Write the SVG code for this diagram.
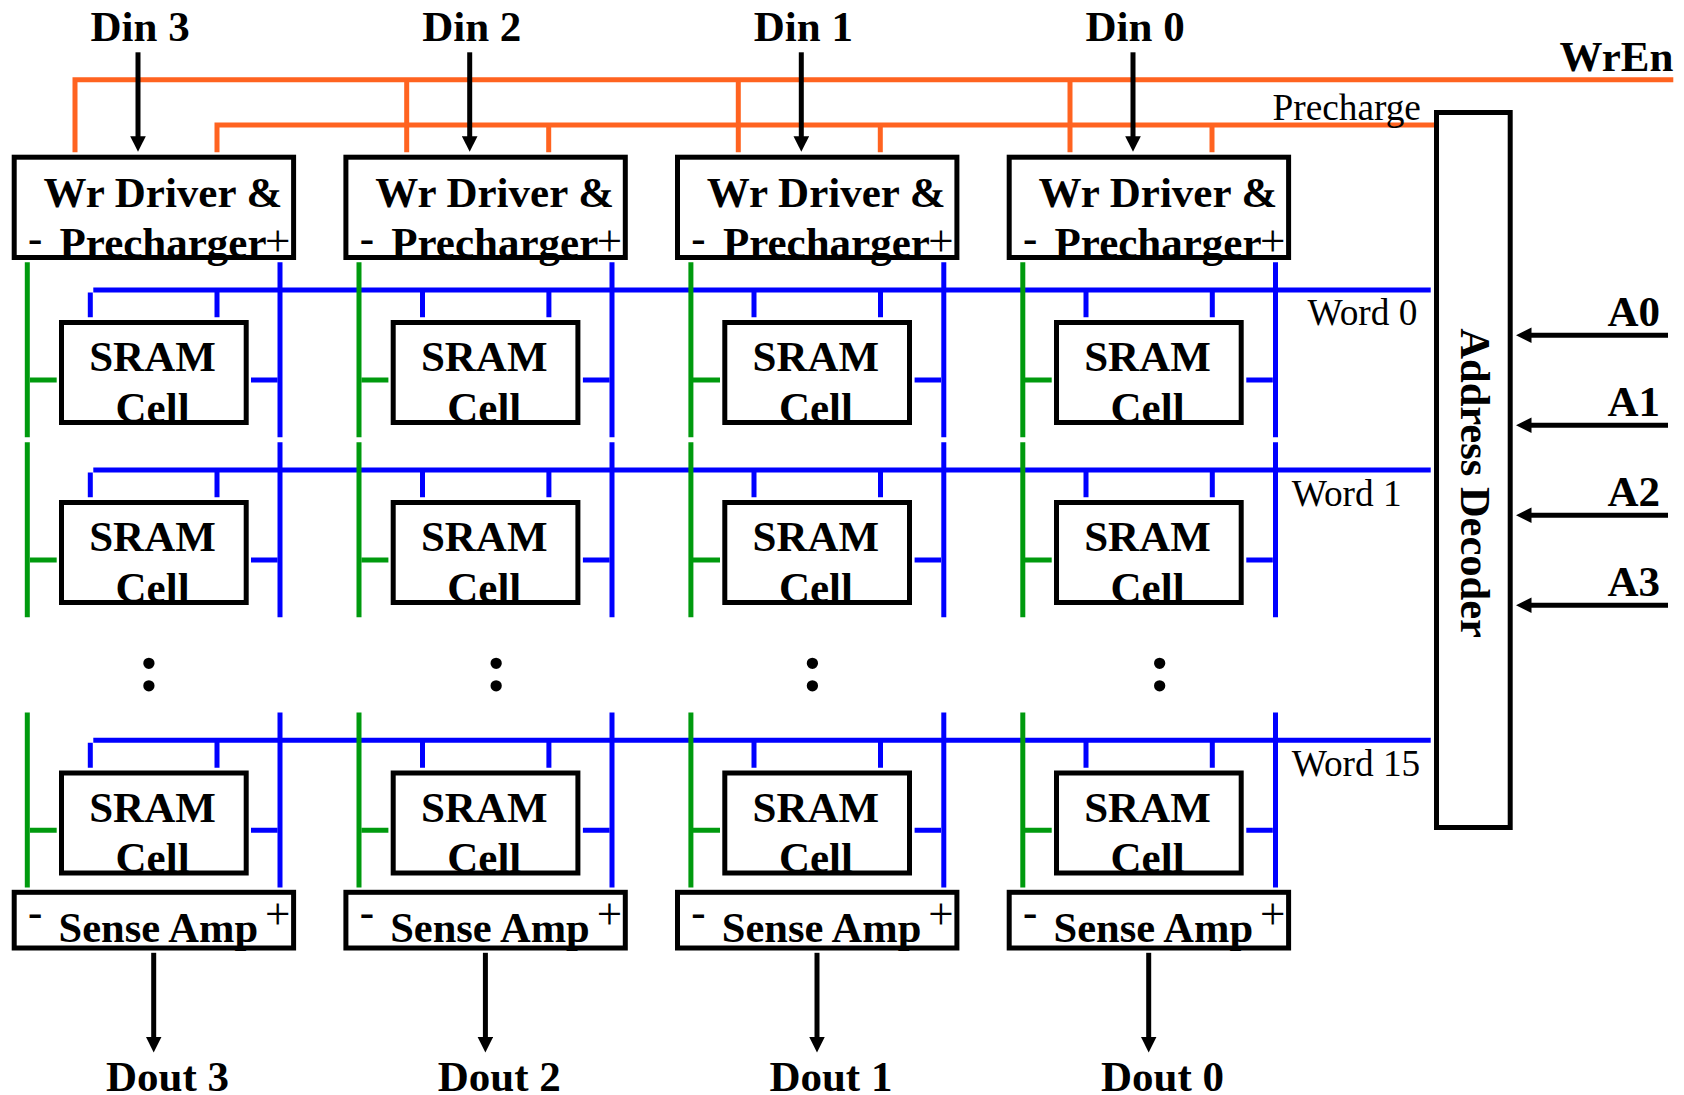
<svg xmlns="http://www.w3.org/2000/svg" width="1684" height="1095" viewBox="0 0 1684 1095">
<style>
.box{fill:none;stroke:#000;stroke-width:5}
.o{fill:none;stroke:#ff6320;stroke-width:5}
.g{fill:none;stroke:#009a0e;stroke-width:5}
.b{fill:none;stroke:#0000ff;stroke-width:5}
.a{fill:none;stroke:#000;stroke-width:5;marker-end:url(#ah)}
text{font-family:"Liberation Serif","Times New Roman",serif;fill:#000}
.t{font-size:43px;font-weight:bold}
.s{font-size:42.5px;font-weight:bold}
.r{font-size:37.3px}
.p{font-size:45px}
.d{font-size:70px;font-weight:bold}
</style>
<defs>
<marker id="ah" markerUnits="userSpaceOnUse" markerWidth="16" markerHeight="16" refX="5.5" refY="8" orient="auto"><path d="M0 0.2L15.5 8L0 15.8Z" fill="#000"/></marker>
</defs>
<rect width="1684" height="1095" fill="#fff"/>
<g id="connectors">
<path class="o" d="M1673.3 79.7H72.5M75 79.7V152.3M406.7 79.7V152.3M738.3 79.7V152.3M1070 79.7V152.3"/>
<path class="o" d="M1436 125H214.5M217 125V152.3M548.7 125V152.3M880.3 125V152.3M1212 125V152.3"/>
<path class="a" d="M138 52.3V141.7"/><path class="a" d="M469.7 52.3V141.7"/><path class="a" d="M801.3 52.3V141.7"/><path class="a" d="M1133 52.3V141.7"/>
<path class="b" d="M93.3 289.9H1430.7M90.3 292.5V317.3M217 292.5V317.3M422.5 292.5V317.3M548.9 292.5V317.3M754 292.5V317.3M880.5 292.5V317.3M1086 292.5V317.3M1212.3 292.5V317.3"/>
<path class="b" d="M93.3 470H1430.7M90.3 472.5V497.3M217 472.5V497.3M422.5 472.5V497.3M548.9 472.5V497.3M754 472.5V497.3M880.5 472.5V497.3M1086 472.5V497.3M1212.3 472.5V497.3"/>
<path class="b" d="M93.3 740.2H1430.7M90.3 742.8V767.8M217 742.8V767.8M422.5 742.8V767.8M548.9 742.8V767.8M754 742.8V767.8M880.5 742.8V767.8M1086 742.8V767.8M1212.3 742.8V767.8"/>
<path class="g" d="M27.3 262.3V437.3M30 380H56.7M359 262.3V437.3M361.7 380H388.4M690.9 262.3V437.3M693.4 380H720M1022.8 262.3V437.3M1025 380H1051.7"/>
<path class="g" d="M27.3 442.3V617.3M30 560H56.7M359 442.3V617.3M361.7 560H388.4M690.9 442.3V617.3M693.4 560H720M1022.8 442.3V617.3M1025 560H1051.7"/>
<path class="g" d="M27.3 712.6V887.6M30 830.2H56.7M359 712.6V887.6M361.7 830.2H388.4M690.9 712.6V887.6M693.4 830.2H720M1022.8 712.6V887.6M1025 830.2H1051.7"/>
<path class="b" d="M280 262.3V437.3M251 380H277.3M612 262.3V437.3M582.9 380H609.3M943.8 262.3V437.3M914.6 380H941M1275.5 262.3V437.3M1246.3 380H1272.8"/>
<path class="b" d="M280 442.3V617.3M251 560H277.3M612 442.3V617.3M582.9 560H609.3M943.8 442.3V617.3M914.6 560H941M1275.5 442.3V617.3M1246.3 560H1272.8"/>
<path class="b" d="M280 712.6V887.6M251 830.2H277.3M612 712.6V887.6M582.9 830.2H609.3M943.8 712.6V887.6M914.6 830.2H941M1275.5 712.6V887.6M1246.3 830.2H1272.8"/>
<path class="a" d="M153.7 952.8V1042.4"/><path class="a" d="M485.4 952.8V1042.4"/><path class="a" d="M817 952.8V1042.4"/><path class="a" d="M1148.7 952.8V1042.4"/>
<path class="a" d="M1668 335.2H1526"/><path class="a" d="M1668 425.2H1526"/><path class="a" d="M1668 515.2H1526"/><path class="a" d="M1668 605.2H1526"/>
</g>
<g id="wr3"><rect class="box" x="14.2" y="157.2" width="279.4" height="100.3"/><text class="t" x="43.5" y="207.2">Wr Driver &amp;</text><text class="t" x="59.6" y="256.5">Precharger</text><text class="t" x="28" y="252">-</text><text class="p" x="265" y="255.5">+</text></g>
<g id="wr2"><rect class="box" x="345.9" y="157.2" width="279.4" height="100.3"/><text class="t" x="375.2" y="207.2">Wr Driver &amp;</text><text class="t" x="391.3" y="256.5">Precharger</text><text class="t" x="359.7" y="252">-</text><text class="p" x="596.7" y="255.5">+</text></g>
<g id="wr1"><rect class="box" x="677.5" y="157.2" width="279.4" height="100.3"/><text class="t" x="706.8" y="207.2">Wr Driver &amp;</text><text class="t" x="722.9" y="256.5">Precharger</text><text class="t" x="691.3" y="252">-</text><text class="p" x="928.3" y="255.5">+</text></g>
<g id="wr0"><rect class="box" x="1009.2" y="157.2" width="279.4" height="100.3"/><text class="t" x="1038.5" y="207.2">Wr Driver &amp;</text><text class="t" x="1054.6" y="256.5">Precharger</text><text class="t" x="1023" y="252">-</text><text class="p" x="1260" y="255.5">+</text></g>
<g id="cell-0-3"><rect class="box" x="61.5" y="322.5" width="184.7" height="100"/><text class="t" text-anchor="middle" x="152.5" y="371">SRAM</text><text class="t" text-anchor="middle" x="152.6" y="421.5">Cell</text></g>
<g id="cell-0-2"><rect class="box" x="393.2" y="322.5" width="184.7" height="100"/><text class="t" text-anchor="middle" x="484.2" y="371">SRAM</text><text class="t" text-anchor="middle" x="484.3" y="421.5">Cell</text></g>
<g id="cell-0-1"><rect class="box" x="724.8" y="322.5" width="184.7" height="100"/><text class="t" text-anchor="middle" x="815.8" y="371">SRAM</text><text class="t" text-anchor="middle" x="815.9" y="421.5">Cell</text></g>
<g id="cell-0-0"><rect class="box" x="1056.5" y="322.5" width="184.7" height="100"/><text class="t" text-anchor="middle" x="1147.5" y="371">SRAM</text><text class="t" text-anchor="middle" x="1147.6" y="421.5">Cell</text></g>
<g id="cell-1-3"><rect class="box" x="61.5" y="502.5" width="184.7" height="100"/><text class="t" text-anchor="middle" x="152.5" y="551">SRAM</text><text class="t" text-anchor="middle" x="152.6" y="601.5">Cell</text></g>
<g id="cell-1-2"><rect class="box" x="393.2" y="502.5" width="184.7" height="100"/><text class="t" text-anchor="middle" x="484.2" y="551">SRAM</text><text class="t" text-anchor="middle" x="484.3" y="601.5">Cell</text></g>
<g id="cell-1-1"><rect class="box" x="724.8" y="502.5" width="184.7" height="100"/><text class="t" text-anchor="middle" x="815.8" y="551">SRAM</text><text class="t" text-anchor="middle" x="815.9" y="601.5">Cell</text></g>
<g id="cell-1-0"><rect class="box" x="1056.5" y="502.5" width="184.7" height="100"/><text class="t" text-anchor="middle" x="1147.5" y="551">SRAM</text><text class="t" text-anchor="middle" x="1147.6" y="601.5">Cell</text></g>
<g id="cell-15-3"><rect class="box" x="61.5" y="773" width="184.7" height="100"/><text class="t" text-anchor="middle" x="152.5" y="821.5">SRAM</text><text class="t" text-anchor="middle" x="152.6" y="872">Cell</text></g>
<g id="cell-15-2"><rect class="box" x="393.2" y="773" width="184.7" height="100"/><text class="t" text-anchor="middle" x="484.2" y="821.5">SRAM</text><text class="t" text-anchor="middle" x="484.3" y="872">Cell</text></g>
<g id="cell-15-1"><rect class="box" x="724.8" y="773" width="184.7" height="100"/><text class="t" text-anchor="middle" x="815.8" y="821.5">SRAM</text><text class="t" text-anchor="middle" x="815.9" y="872">Cell</text></g>
<g id="cell-15-0"><rect class="box" x="1056.5" y="773" width="184.7" height="100"/><text class="t" text-anchor="middle" x="1147.5" y="821.5">SRAM</text><text class="t" text-anchor="middle" x="1147.6" y="872">Cell</text></g>
<g id="sa3"><rect class="box" x="14.2" y="892.3" width="279.4" height="55.7"/><text class="s" x="58.5" y="942">Sense Amp</text><text class="t" x="28" y="926">-</text><text class="p" x="265" y="928.5">+</text></g>
<g id="sa2"><rect class="box" x="345.9" y="892.3" width="279.4" height="55.7"/><text class="s" x="390.2" y="942">Sense Amp</text><text class="t" x="359.7" y="926">-</text><text class="p" x="596.7" y="928.5">+</text></g>
<g id="sa1"><rect class="box" x="677.5" y="892.3" width="279.4" height="55.7"/><text class="s" x="721.8" y="942">Sense Amp</text><text class="t" x="691.3" y="926">-</text><text class="p" x="928.3" y="928.5">+</text></g>
<g id="sa0"><rect class="box" x="1009.2" y="892.3" width="279.4" height="55.7"/><text class="s" x="1053.5" y="942">Sense Amp</text><text class="t" x="1023" y="926">-</text><text class="p" x="1260" y="928.5">+</text></g>
<g id="decoder"><rect class="box" x="1436.5" y="112.5" width="73.7" height="715"/><text class="s" transform="translate(1461.3 328.3) rotate(90)">Address Decoder</text></g>
<g id="labels">
<text class="t" x="90.5" y="41">Din 3</text><text class="t" x="422.2" y="41">Din 2</text><text class="t" x="753.8" y="41">Din 1</text><text class="t" x="1085.5" y="41">Din 0</text>
<text class="t" x="1559.5" y="71">WrEn</text>
<text class="r" x="1272.5" y="120.3">Precharge</text>
<text class="r" x="1307.5" y="325">Word 0</text>
<text class="r" x="1291.7" y="505.5">Word 1</text>
<text class="r" x="1291.7" y="775.7">Word 15</text>
<text class="t" x="1607.5" y="326">A0</text><text class="t" x="1607.5" y="416">A1</text><text class="t" x="1607.5" y="505.5">A2</text><text class="t" x="1607.5" y="595.5">A3</text>
<text class="t" x="106" y="1091">Dout 3</text><text class="t" x="437.7" y="1091">Dout 2</text><text class="t" x="769.4" y="1091">Dout 1</text><text class="t" x="1101" y="1091">Dout 0</text>
<text class="d" x="137.5" y="690.7">:</text><text class="d" x="484.7" y="690.7">:</text><text class="d" x="801" y="690.7">:</text><text class="d" x="1148.3" y="690.7">:</text>
</g>
</svg>
